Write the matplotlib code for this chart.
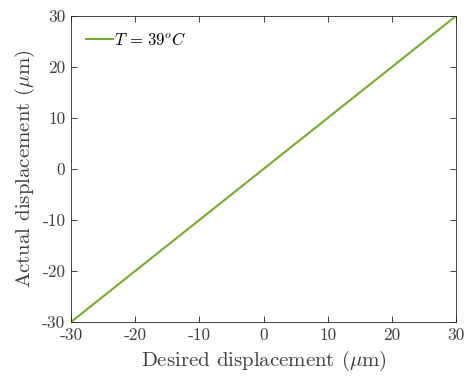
import matplotlib
matplotlib.use('Agg')
from matplotlib import pyplot as plt

plt.rcParams['font.family'] = 'cmr10'
plt.rcParams['mathtext.fontset'] = 'cm'
plt.rcParams['axes.unicode_minus'] = False

desired = [-30, -20, -10, 0, 10, 20, 30]
actual = [-30, -20, -10, 0, 10, 20, 30]
xticks = [-30, -20, -10, 0, 10, 20, 30]
yticks = [-30, -20, -10, 0, 10, 20, 30]

fig = plt.figure(figsize=(4.65, 3.83), dpi=100)
ax = fig.add_axes([71/465, 61/383, 385/465, 306/383])
ax.plot(desired, actual, color='#77AC30', lw=1.5, label=r'$T\,=\,39^oC$')
ax.set_xlim(-30, 30)
ax.set_ylim(-30, 30)
ax.set_xticks(xticks)
ax.set_yticks(yticks)
ax.set_xticklabels([str(t) for t in xticks])
ax.set_yticklabels([str(t) for t in yticks])
ax.tick_params(direction='in', top=True, right=True, length=4, width=0.6,
               labelsize=12.5, colors='#262626', labelcolor='#404040', pad=4)
for s in ax.spines.values():
    s.set_color('#262626')
    s.set_linewidth(0.6)
ax.set_xlabel(r'Desired displacement ($\mu$m)', fontsize=15, color='#404040', labelpad=4)
ax.set_ylabel(r'Actual displacement ($\mu$m)', fontsize=15, color='#404040', labelpad=4)
leg = ax.legend(loc='upper left', frameon=False, fontsize=12, handlelength=1.6,
                handletextpad=0.1, borderaxespad=0.5)
fig.savefig('out.png', dpi=100)
